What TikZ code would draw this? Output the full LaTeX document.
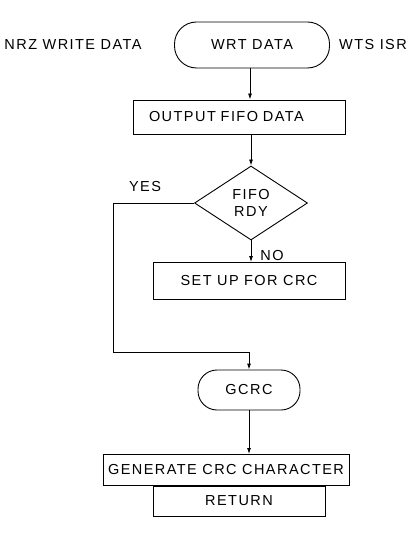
\documentclass[tikz,border=0pt]{standalone}
\usepackage{fontspec}
\setmainfont{Liberation Sans}[LetterSpace=10]
\usetikzlibrary{shapes.geometric,arrows.meta}
\tikzset{
  every node/.style={font=\fontsize{14.5pt}{17pt}\selectfont},
  box/.style={draw, line width=0.9pt, rectangle, inner sep=2pt},
  term/.style={draw, line width=0.9pt, inner sep=2pt},
  decision/.style={draw, line width=0.9pt, diamond, inner sep=0pt, aspect=1.5, align=center},
  lbl/.style={inner sep=1pt},
  arr/.style={line width=0.9pt, -{Latex[length=6pt,width=4pt]}},
  ln/.style={line width=0.9pt}
}
\begin{document}
\begin{tikzpicture}[x=1pt,y=-1pt]
\useasboundingbox (0,0) rectangle (417,534);
\node[lbl] (nrz) at (73,45) {NRZ WRITE DATA};
\node[term, minimum width=155pt, minimum height=46pt, rounded corners=22pt] (wrt) at (252,45) {WRT DATA};
\node[lbl] (wts) at (373,45) {WTS ISR};
\node[box, minimum width=212pt, minimum height=34pt, text width=204pt, align=left] (out) at (239,117) {\hspace*{12pt}OUTPUT FIFO DATA};
\node[decision, minimum width=113pt, minimum height=74pt] (dia) at (251,203) {FIFO\\RDY};
\node[lbl] (yes) at (145,187) {YES};
\node[lbl] (no) at (272,256) {NO};
\node[box, minimum width=192pt, minimum height=37pt] (setup) at (249,281) {SET UP FOR CRC};
\node[term, minimum width=102pt, minimum height=40pt, rounded corners=19pt] (gcrc) at (249,390) {GCRC};
\node[box, minimum width=246pt, minimum height=31pt] (gen) at (226,470) {GENERATE CRC CHARACTER};
\node[box, minimum width=172pt, minimum height=30pt, anchor=north] (ret) at (239,485.5) {RETURN};
\coordinate (yl) at (113,203);
\coordinate (yb) at (113,352);
\draw[arr] (wrt.south -| 250,0) -- (out.north -| 250,0);
\draw[arr] (out.south -| dia.north) -- (dia.north);
\draw[arr] (dia.south) -- (setup.north -| dia.south);
\draw[ln] (dia.west) -- (yl) -- (yb);
\draw[arr] (yb) -| (gcrc.north);
\draw[arr] (gcrc.south) -- (gen.north -| gcrc.south);
\end{tikzpicture}
\end{document}
